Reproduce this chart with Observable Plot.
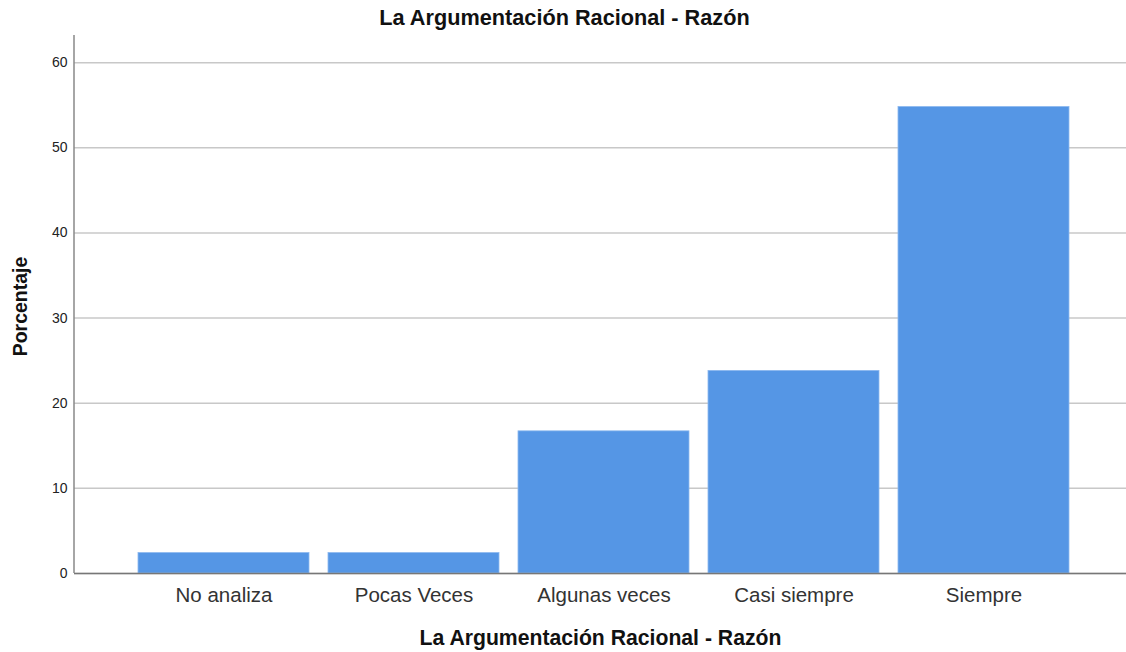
<!DOCTYPE html>
<html>
<head>
<meta charset="utf-8">
<script src="https://cdn.jsdelivr.net/npm/d3@7"></script>
<script src="https://cdn.jsdelivr.net/npm/@observablehq/plot@0.6"></script>
<style>
  html, body { margin: 0; padding: 0; background: #fff; }
  svg { display: block; }
</style>
</head>
<body>
<div id="chart"></div>
<script>
const categories = ["No analiza", "Pocas Veces", "Algunas veces", "Casi siempre", "Siempre"];
const values = [2.4, 2.4, 16.7, 23.8, 54.8];
const yTicks = [0, 10, 20, 30, 40, 50, 60];
const title = "La Argumentación Racional - Razón";
const xLabel = "La Argumentación Racional - Razón";
const yLabel = "Porcentaje";

const data = categories.map((c, i) => ({category: c, value: values[i]}));

const font = "'Liberation Sans', Arial, sans-serif";

const yAxisLine = (index, scales, values, dims) =>
  d3.create("svg:line")
    .attr("x1", dims.marginLeft).attr("x2", dims.marginLeft)
    .attr("y1", dims.marginTop).attr("y2", dims.height - dims.marginBottom)
    .attr("stroke", "#888").attr("stroke-width", 1.5)
    .node();

const chart = Plot.plot({
  width: 1126,
  height: 652,
  marginTop: 35,
  marginBottom: 79,
  marginLeft: 74,
  marginRight: 0,
  style: {fontFamily: font, background: "#fff"},
  x: {domain: categories, range: [137, 1070], paddingInner: 0.1, paddingOuter: 0, axis: null},
  y: {domain: [0, 63.2], axis: null},
  marks: [
    Plot.gridY(yTicks, {stroke: "#c8c8c8", strokeOpacity: 1, strokeWidth: 1.5}),
    Plot.barY(data, {x: "category", y: "value", fill: "#5596E5", stroke: "#8cb8ef", strokeWidth: 0.8}),
    Plot.ruleY([0], {stroke: "#777", strokeWidth: 1.5}),
    yAxisLine,
    Plot.axisY(yTicks, {tickSize: 0, tickPadding: 7, fontSize: 14, fill: "#222", label: null}),
    Plot.axisX(categories, {tickSize: 0, tickPadding: 14, fontSize: 20.5, fill: "#333", label: null}),
    Plot.text([title], {frameAnchor: "top", lineAnchor: "middle", dy: -17, dx: -36, fontSize: 21.7, fontWeight: "bold", fill: "#111"}),
    Plot.text([xLabel], {frameAnchor: "bottom", lineAnchor: "middle", dy: 65, fontSize: 21.2, fontWeight: "bold", fill: "#111"}),
    Plot.text([yLabel], {frameAnchor: "left", textAnchor: "middle", lineAnchor: "middle", dx: -54, dy: 2, rotate: -90, fontSize: 19.5, fontWeight: "bold", fill: "#111"})
  ]
});
document.getElementById("chart").appendChild(chart);
</script>
</body>
</html>
